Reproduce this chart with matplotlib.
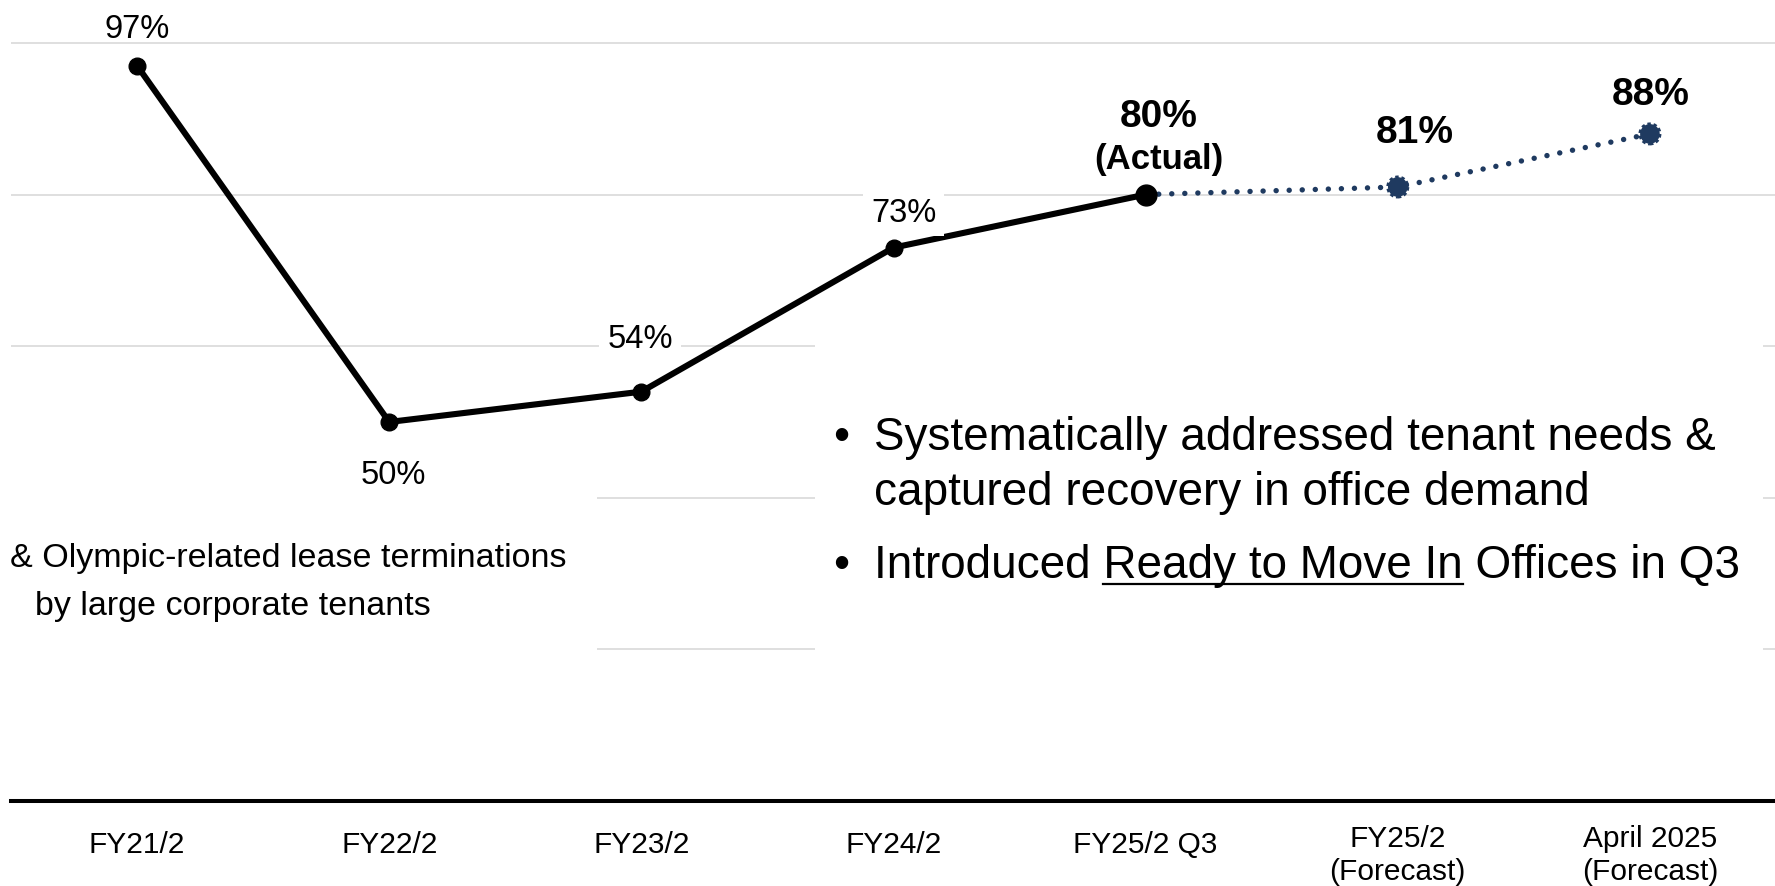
import matplotlib
matplotlib.use("Agg")
import matplotlib.pyplot as plt
from matplotlib.patches import Rectangle
from matplotlib.lines import Line2D
import numpy as np

plt.rcParams['font.family'] = ['Liberation Sans', 'DejaVu Sans']

# ---- data -------------------------------------------------------------
categories = ["FY21/2", "FY22/2", "FY23/2", "FY24/2", "FY25/2 Q3",
              "FY25/2\n(Forecast)", "April 2025\n(Forecast)"]
actual_rate = [97, 50, 54, 73, 80]        # occupancy, actual (%)
forecast_rate = [81, 88]                  # occupancy, forecast (%)
gridline_levels = [20, 40, 60, 80, 100]

note_lines = ["& Olympic-related lease terminations",
              "by large corporate tenants"]
bullet_one = ["Systematically addressed tenant needs &",
              "captured recovery in office demand"]
bullet_two = ["Introduced ", "Ready to Move In", " Offices in Q3"]

# ---- styling ------------------------------------------------------------
NAVY = "#1f3a60"
GRID = "#d9d9d9"
W, H, DPI = 1775, 887, 100


def fx(px):
    return px / W


def fy(py):
    # py measured from the top edge of the figure
    return 1 - py / H


fig = plt.figure(figsize=(W / DPI, H / DPI), dpi=DPI)
ax = fig.add_axes([fx(11), 85 / H, 1765 / W, 802 / H])

x = np.arange(len(categories))
ax.set_xlim(-0.5, len(categories) - 0.5)
ax.set_ylim(0, 105.8)

ax.set_yticks(gridline_levels)
ax.yaxis.grid(True, color=GRID, lw=1.2)
ax.set_axisbelow(True)
ax.tick_params(axis='y', length=0, labelleft=False)
ax.set_xticks([])
for side in ("top", "left", "right"):
    ax.spines[side].set_visible(False)
ax.spines["bottom"].set_color("black")
ax.spines["bottom"].set_linewidth(2.9)

# white panels behind the two text blocks (they mask the gridlines)
for (l, t, r, b) in [(0, 455, 597, 705), (815, 330, 1763, 705)]:
    ax.add_patch(Rectangle((fx(l), fy(b)), (r - l) / W, (b - t) / H,
                           transform=fig.transFigure, facecolor="white",
                           edgecolor="none", zorder=1, clip_on=False))

# actual series
n_act = len(actual_rate)
ax.plot(x[:n_act], actual_rate, color="black", lw=4.4, marker="o", ms=12,
        solid_capstyle="round", zorder=3)
ax.plot(x[n_act - 1], actual_rate[-1], "o", color="black", ms=15, zorder=6)

# forecast series, continuing from the latest actual value
fc_x = x[n_act - 1:]
fc_y = [actual_rate[-1]] + forecast_rate
ax.plot(fc_x, fc_y, color=NAVY, lw=3.9, linestyle=(0, (0.01, 2.4)),
        dash_capstyle="round", zorder=3)
ax.scatter(x[n_act:], forecast_rate, s=200, color=NAVY, edgecolors=NAVY,
           linewidths=2.4, linestyles=(0, (1.0, 0.8)), zorder=5)

# value labels
box = dict(boxstyle="square,pad=0.25", fc="white", ec="none")
plain_offsets = [(0, 29), (4, -61), (-1, 45), (10, 27)]
masked = [False, False, True, True]
for i, (v, off) in enumerate(zip(actual_rate[:-1], plain_offsets)):
    ax.annotate(f"{v}%", xy=(x[i], v), xytext=off, textcoords="offset pixels",
                ha="center", va="baseline", fontsize=23.5,
                bbox=box if masked[i] else None, zorder=7)

ax.annotate(f"{actual_rate[-1]}%", xy=(x[n_act - 1], actual_rate[-1]),
            xytext=(13, 69), textcoords="offset pixels", ha="center",
            va="baseline", fontsize=28, fontweight="bold", zorder=7)
ax.annotate("(Actual)", xy=(x[n_act - 1], actual_rate[-1]),
            xytext=(13, 27), textcoords="offset pixels", ha="center",
            va="baseline", fontsize=25, fontweight="bold", zorder=7)
bold_offsets = [(17, 45), (1, 30)]
for i, (v, off) in enumerate(zip(forecast_rate, bold_offsets)):
    ax.annotate(f"{v}%", xy=(x[n_act + i], v), xytext=off,
                textcoords="offset pixels", ha="center", va="baseline",
                fontsize=28, fontweight="bold", zorder=7)

# category labels under the baseline
for i, cat in enumerate(categories):
    lift = 6 if "\n" in cat else 0
    ax.annotate(cat, xy=(x[i], 0), xycoords=ax.get_xaxis_transform(),
                xytext=(0, -29 + lift), textcoords="offset pixels",
                ha="center", va="top", fontsize=21.5, linespacing=1.25,
                annotation_clip=False)

# note on the left
NSIZE = 24.5
fig.text(fx(566), fy(567), note_lines[0], ha="right", va="baseline",
         fontsize=NSIZE, zorder=8)
fig.text(fx(233), fy(615), note_lines[1], ha="center", va="baseline",
         fontsize=NSIZE, zorder=8)

# bullet points
BSIZE = 33
TX = 874
fig.text(fx(841), fy(450), "\u2022", ha="center", va="baseline",
         fontsize=BSIZE, zorder=8)
fig.text(fx(TX), fy(450), bullet_one[0], ha="left", va="baseline",
         fontsize=BSIZE, zorder=8)
fig.text(fx(TX), fy(505), bullet_one[1], ha="left", va="baseline",
         fontsize=BSIZE, zorder=8)
fig.text(fx(841), fy(578), "\u2022", ha="center", va="baseline",
         fontsize=BSIZE, zorder=8)
fig.text(fx(TX), fy(578), "".join(bullet_two), ha="left", va="baseline",
         fontsize=BSIZE, zorder=8)

renderer = fig.canvas.get_renderer()


def text_width(s):
    t = fig.text(0, 0, s, fontsize=BSIZE)
    w = t.get_window_extent(renderer).width
    t.remove()
    return w


first = bullet_two[0] + bullet_two[1][0]
u_start = TX + text_width(first) - text_width(bullet_two[1][0])
u_end = TX + text_width(bullet_two[0] + bullet_two[1])
fig.add_artist(Line2D([fx(u_start), fx(u_end)], [fy(585), fy(585)],
                      transform=fig.transFigure, color="black", lw=1.6,
                      zorder=8))

fig.savefig("out.png", dpi=DPI, facecolor="white")
